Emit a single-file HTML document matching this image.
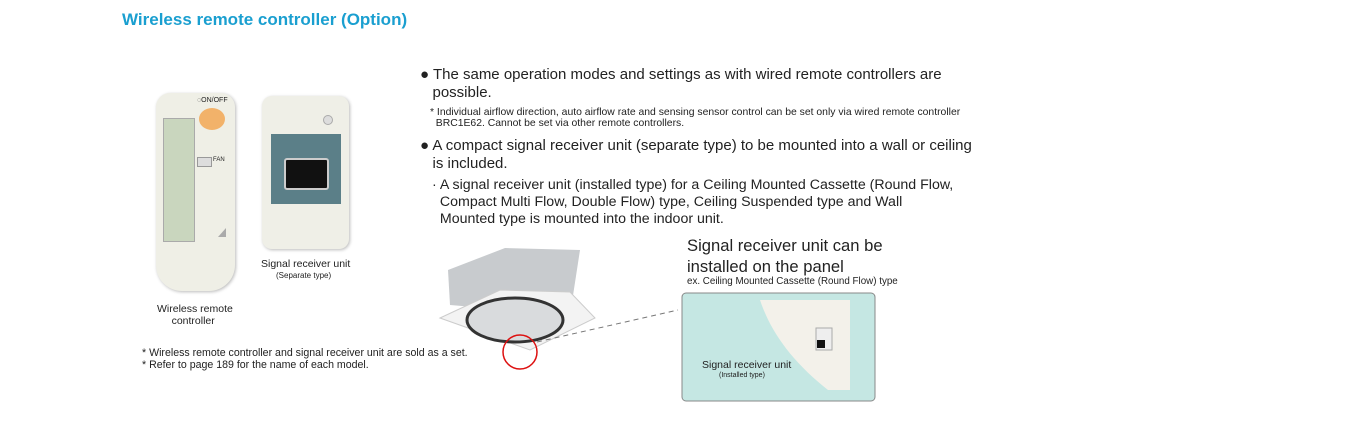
<!DOCTYPE html>
<html><head><meta charset="utf-8"><style>
body{margin:0;width:1366px;height:448px;background:#fff;position:relative;overflow:hidden;font-family:"Liberation Sans",Arial,sans-serif;color:#222}
.a{position:absolute;white-space:nowrap}
</style></head><body>
<div class="a" style="left:122px;top:10px;font-size:17px;font-weight:bold;color:#1a9fd0">Wireless remote controller (Option)</div>

<div class="a" style="left:156px;top:93px;width:79px;height:198px;background:#efefe6;border-radius:14px 14px 26px 26px;box-shadow:1px 1px 3px #bbb"></div>
<div class="a" style="left:163px;top:118px;width:30px;height:122px;background:#c9d6be;border:1px solid #aaa"></div>
<div class="a" style="left:197px;top:97px;font-size:7px">◌ON/OFF</div>
<div class="a" style="left:199px;top:108px;width:26px;height:22px;border-radius:50%;background:#f2b26a"></div>
<div class="a" style="left:197px;top:157px;width:13px;height:8px;background:#ddd;border:1px solid #999"></div>
<div class="a" style="left:213px;top:157px;font-size:6px">FAN</div>
<div class="a" style="left:218px;top:228px;width:0;height:0;border-left:8px solid transparent;border-bottom:9px solid #aaa"></div>

<div class="a" style="left:262px;top:96px;width:87px;height:153px;background:#efefe7;border-radius:10px;box-shadow:1px 1px 3px #bbb"></div>
<div class="a" style="left:271px;top:134px;width:70px;height:70px;background:#5b7f88"></div>
<div class="a" style="left:284px;top:158px;width:41px;height:28px;background:#111;border:2px solid #ccc;border-radius:3px"></div>
<div class="a" style="left:323px;top:115px;width:8px;height:8px;border-radius:50%;background:#ddd;border:1px solid #aaa"></div>

<div class="a" style="left:261px;top:258px;font-size:10.5px">Signal receiver unit</div>
<div class="a" style="left:276px;top:271px;font-size:8px">(Separate type)</div>
<div class="a" style="left:157px;top:303px;font-size:10.5px;line-height:12px">Wireless remote<br>&nbsp;&nbsp;&nbsp;&nbsp;&nbsp;controller</div>
<div class="a" style="left:142px;top:347px;font-size:10.6px;line-height:12px">* Wireless remote controller and signal receiver unit are sold as a set.<br>* Refer to page 189 for the name of each model.</div>

<div class="a" style="left:420px;top:66px;font-size:15px;line-height:18px">● The same operation modes and settings as with wired remote controllers are<br>&nbsp;&nbsp;&nbsp;possible.</div>
<div class="a" style="left:430px;top:107px;font-size:10.4px;line-height:11px">* Individual airflow direction, auto airflow rate and sensing sensor control can be set only via wired remote controller<br>&nbsp;&nbsp;BRC1E62. Cannot be set via other remote controllers.</div>
<div class="a" style="left:420px;top:137px;font-size:15px;line-height:18px">● A compact signal receiver unit (separate type) to be mounted into a wall or ceiling<br>&nbsp;&nbsp;&nbsp;is included.</div>
<div class="a" style="left:432px;top:177px;font-size:14.2px;line-height:17px">· A signal receiver unit (installed type) for a Ceiling Mounted Cassette (Round Flow,<br>&nbsp;&nbsp;Compact Multi Flow, Double Flow) type, Ceiling Suspended type and Wall<br>&nbsp;&nbsp;Mounted type is mounted into the indoor unit.</div>

<svg class="a" style="left:420px;top:230px" width="470" height="180">
<polygon points="28,40 85,18 160,20 150,85 30,75" fill="#c8cbce"/>
<polygon points="20,88 80,60 150,62 175,88 110,120" fill="#f3f3f3" stroke="#ccc"/>
<ellipse cx="95" cy="90" rx="48" ry="22" fill="#d9dbdd" stroke="#333" stroke-width="3"/>
<circle cx="100" cy="122" r="17" fill="none" stroke="#d11" stroke-width="1.5"/>
<line x1="117" y1="112" x2="258" y2="80" stroke="#777" stroke-dasharray="5,4"/>
<rect x="262" y="63" width="193" height="108" rx="4" fill="#c5e7e3" stroke="#888"/>
<path d="M340,70 L430,70 L430,160 L408,160 C370,130 350,100 340,70Z" fill="#f3f1ea"/>
<rect x="396" y="98" width="16" height="22" fill="#eee" stroke="#aaa"/>
<rect x="397" y="110" width="8" height="8" fill="#111"/>
</svg>
<div class="a" style="left:687px;top:235px;font-size:16.6px;line-height:21px">Signal receiver unit can be<br>installed on the panel</div>
<div class="a" style="left:687px;top:276px;font-size:9.8px">ex. Ceiling Mounted Cassette (Round Flow) type</div>
<div class="a" style="left:702px;top:359px;font-size:10.5px">Signal receiver unit</div>
<div class="a" style="left:719px;top:372px;font-size:7px">(Installed type)</div>
</body></html>
